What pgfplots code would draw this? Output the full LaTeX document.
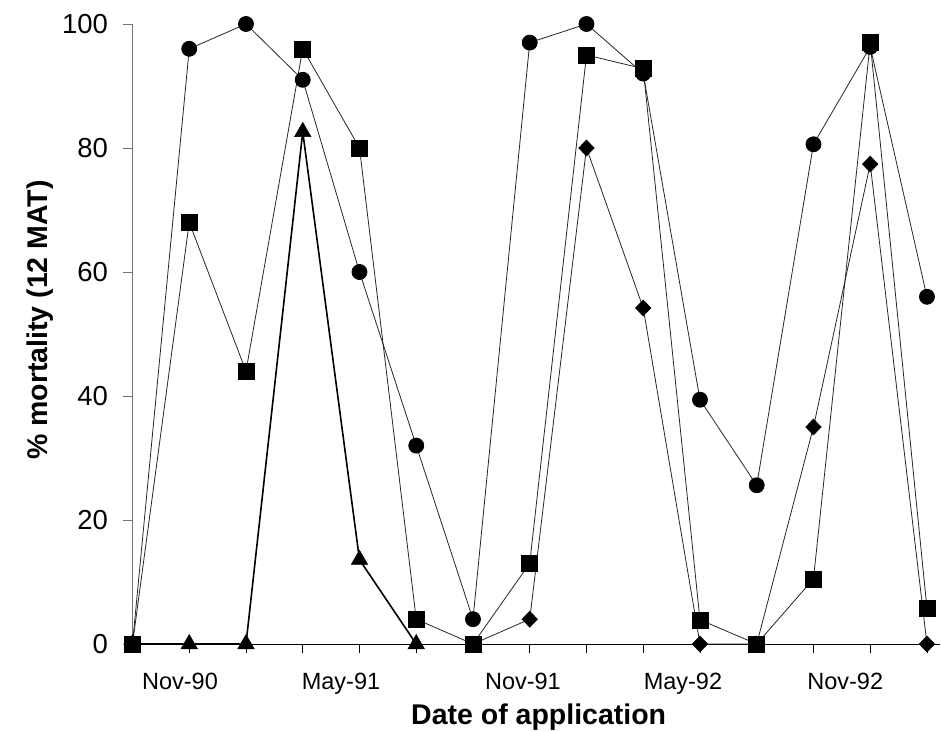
\documentclass[border=0pt]{standalone}
\usepackage{pgfplots}
\pgfplotsset{compat=1.18}
\usepackage{fontspec}
\setmainfont{Liberation Sans}
\begin{document}
\begin{tikzpicture}
\begin{axis}[
  name=ax,
  scale only axis,
  width=807.5pt, height=620pt,
  xmin=0, xmax=14.23, ymin=0, ymax=100,
  clip=false,
  axis x line=bottom, axis y line=left,
  axis line style={-},
  y axis line style={black!55},
  ytick={0,20,40,60,80,100},
  ytick style={black!55, line width=0.8pt},
  xtick={0,1,...,14},
  xticklabels={},
  xtick style={black, line width=0.8pt},
  tick align=outside,
  major tick length=9pt,
  extra x ticks={0.837,3.674,6.88,9.70,12.56},
  extra x tick labels={Nov-90,May-91,Nov-91,May-92,Nov-92},
  extra x tick style={major tick length=0pt, tick style={draw=none}},
  xticklabel style={anchor=north, yshift=-26pt},
  /pgf/number format/assume math mode=true,
  tick label style={font=\fontsize{23.5}{27}\selectfont},
  yticklabel style={font=\fontsize{27.5}{31}\selectfont, xshift=-12pt},
  xlabel={Date of application},
  ylabel={\% mortality (12 MAT)},
  label style={font=\bfseries\fontsize{28.5}{32}\selectfont},
  xlabel style={at={(axis description cs:0.503,-0.1177)}, anchor=center},
  ylabel style={at={(axis description cs:-0.1146,0.5226)}, anchor=center, rotate=0},
  axis line style={line width=1pt},
]
% circles
\addplot[black!85, line width=0.8pt, mark=*, mark size=7.5pt, mark options={fill=black, draw=black}] coordinates {
(0,0)(1,96)(2,100)(3,91)(4,60)(5,32)(6,4)(7,97)(8,100)(9,92)(10,39.4)(11,25.6)(12,80.6)(13,96.3)(14,56)};
% triangles
\addplot[black, line width=1.6pt, mark=triangle*, mark size=9.5pt, mark options={fill=black, draw=black, line width=0.5pt}] coordinates {
(0,0)(1,0)(2,0)(3,82.6)(4,13.6)(5,0)};
% diamonds
\addplot[black!85, line width=0.8pt, mark=diamond*, mark size=8pt, mark options={fill=black, draw=black, xscale=1.3, line width=0.5pt}] coordinates {
(6,0)(7,4)(8,80)(9,54.2)(10,0)(11,0)(12,35)(13,77.4)(14,0)};
% squares
\addplot[black!85, line width=0.8pt, mark=square*, mark size=8pt, mark options={fill=black, draw=black, line width=0.5pt}] coordinates {
(0,0)(1,68)(2,44)(3,96)(4,80)(5,4)(6,0)(7,13)(8,95)(9,92.8)(10,3.9)(11,0)(12,10.5)(13,97)(14,5.8)};
\end{axis}
\pgfresetboundingbox
\path (ax.south west) ++(-132.5pt,-87pt) rectangle ++(941pt,731pt);
\end{tikzpicture}
\end{document}
